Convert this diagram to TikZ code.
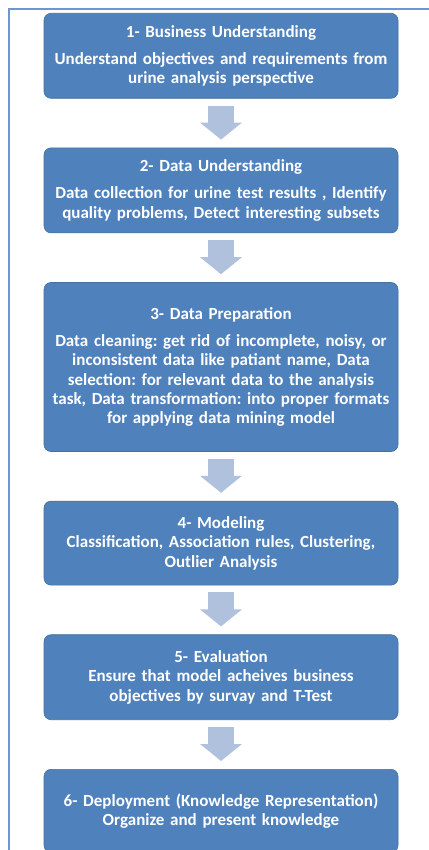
\documentclass[tikz,border=0pt]{standalone}
\usepackage{fontspec}
\setmainfont{Carlito}
\usepackage{xcolor}
\usepackage{tikz}
\usetikzlibrary{positioning,arrows.meta}

\definecolor{phaseblue}{HTML}{4F81BD}
\definecolor{phaseedge}{HTML}{41719C}
\definecolor{flowblue}{HTML}{B0C1DE}
\definecolor{framecol}{HTML}{6A98D4}

\frenchspacing

\begin{document}
\begin{tikzpicture}[x=1pt,y=-1pt,
  phase/.style={draw=phaseedge, line width=0.6pt, fill=phaseblue,
    rounded corners=7pt, text=white, align=center,
    minimum width=354pt, text width=346pt, minimum height=85pt,
    inner sep=0pt,
    font=\fontsize{17}{19.3}\selectfont\bfseries},
  flow/.style={draw=flowblue, line width=26pt,
    -{Triangle[width=41pt,length=17pt,fill=flowblue]},
    shorten <=7pt, shorten >=8pt},
  node distance=49pt]

\useasboundingbox (0,0) rectangle (428,850);

% Outer frame
\draw[framecol, line width=1.4pt] (9,852) -- (9,9) -- (430,9);

% Phases
\node[phase, anchor=north] (P1) at (221,13)
  {1- Business Understanding\\[8pt]
   Understand objectives and requirements from\\
   urine analysis perspective};

\node[phase, below=of P1] (P2)
  {2- Data Understanding\\[8pt]
   Data collection for urine test results , Identify\\
   quality problems, Detect interesting subsets};

\node[phase, below=of P2, minimum height=169pt] (P3)
  {3- Data Preparation\\[8pt]
   Data cleaning: get rid of incomplete, noisy, or\\
   inconsistent data like patiant name, Data\\
   selection: for relevant data to the analysis\\
   task, Data transformation: into proper formats\\
   for applying data mining model};

\node[phase, below=of P3, minimum height=84pt] (P4)
  {4- Modeling\\
   Classification, Association rules, Clustering,\\
   Outlier Analysis};

\node[phase, below=of P4] (P5)
  {5- Evaluation\\
   Ensure that model acheives business\\
   objectives by survay and T-Test};

\node[phase, below=of P5, minimum height=83pt] (P6)
  {6- Deployment (Knowledge Representation)\\
   Organize and present knowledge};

% Flow arrows
\foreach \a/\b in {P1/P2,P2/P3,P3/P4,P4/P5,P5/P6}
  \draw[flow] (\a.south) -- (\b.north);

\end{tikzpicture}
\end{document}
